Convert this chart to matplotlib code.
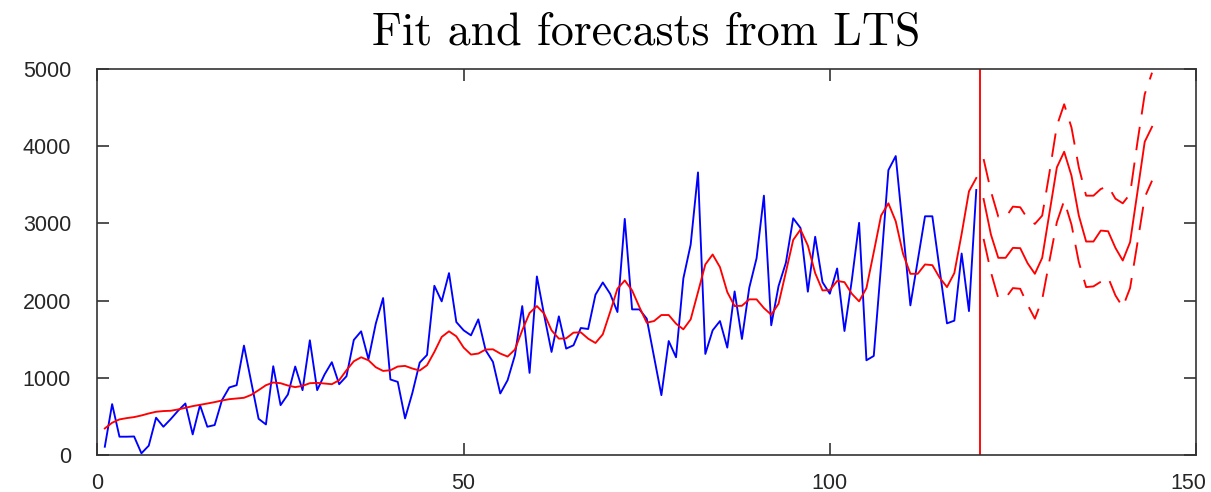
import matplotlib
matplotlib.use("Agg")
import matplotlib.pyplot as plt
import matplotlib.transforms as mtransforms
import numpy as np

# observed series, t = 1..120
observed = [
    107, 659, 237, 237, 240, 22, 121, 483, 366, 465,
    573, 667, 267, 646, 366, 388, 711, 875, 904, 1417,
    943, 469, 396, 1150, 646, 784, 1146, 840, 1486, 840,
    1042, 1202, 917, 1020, 1490, 1602, 1240, 1701, 2033, 978,
    947, 474, 805, 1197, 1296, 2192, 1990, 2356, 1722, 1615,
    1550, 1757, 1357, 1206, 797, 969, 1292, 1929, 1064, 2313,
    1809, 1335, 1796, 1378, 1421, 1645, 1632, 2076, 2235, 2089,
    1852, 3058, 1886, 1886, 1766, 1270, 775, 1476, 1266, 2287,
    2726, 3660, 1309, 1615, 1735, 1391, 2119, 1503, 2166, 2550,
    3359, 1680, 2188, 2490, 3066, 2940, 2115, 2827, 2239, 2089,
    2416, 1606, 2261, 3007, 1227, 1283, 2458, 3690, 3872, 2907,
    1938, 2515, 3092, 3092, 2399, 1705, 1740, 2610, 1864, 3433,
]

# LTS fitted values, t = 1..120
fitted = [
    344, 418, 461, 478, 491, 512, 538, 560, 569, 573,
    590, 611, 633, 650, 667, 685, 706, 723, 732, 741,
    779, 840, 904, 939, 930, 900, 879, 896, 930, 934,
    926, 917, 969, 1098, 1214, 1266, 1227, 1137, 1089, 1098,
    1146, 1154, 1120, 1094, 1163, 1335, 1529, 1602, 1537, 1391,
    1301, 1314, 1366, 1369, 1314, 1275, 1366, 1615, 1839, 1929,
    1830, 1615, 1507, 1511, 1585, 1589, 1507, 1451, 1563, 1852,
    2154, 2261, 2132, 1916, 1714, 1735, 1813, 1813, 1701, 1628,
    1757, 2110, 2468, 2597, 2433, 2110, 1929, 1933, 2016, 2016,
    1903, 1817, 1959, 2369, 2786, 2920, 2713, 2356, 2132, 2136,
    2254, 2239, 2089, 1990, 2162, 2627, 3101, 3260, 3027, 2606,
    2347, 2347, 2468, 2459, 2296, 2175, 2356, 2864, 3415, 3588,
]

# forecasts, t = 121..144
fc_mean = [
    3316, 2855, 2554, 2554, 2683, 2679, 2485, 2347, 2554, 3140,
    3725, 3928, 3618, 3101, 2765, 2765, 2907, 2898, 2683, 2519,
    2756, 3402, 4057, 4251,
]
fc_upper = [
    3833, 3415, 3088, 3075, 3217, 3209, 3062, 2993, 3101, 3661,
    4264, 4543, 4242, 3725, 3359, 3359, 3445, 3484, 3320, 3260,
    3381, 4048, 4673, 4952,
]
fc_lower = [
    2799, 2368, 2033, 2033, 2162, 2153, 1946, 1766, 2016, 2519,
    3015, 3295, 2984, 2498, 2175, 2184, 2244, 2300, 2067, 1916,
    2162, 2743, 3338, 3553,
]
forecast_origin = 120.5

t_obs = np.arange(1, len(observed) + 1)
t_fc = np.arange(len(observed) + 1, len(observed) + 1 + len(fc_mean))

plt.rcParams["lines.scale_dashes"] = False

fig = plt.figure(figsize=(12.11, 4.92), dpi=100)
ax = fig.add_axes([0.0805, 0.0752, 0.9071, 0.7846])

lw = 1.35
ax.plot(t_obs, observed, color="blue", linewidth=lw)
ax.plot(t_obs, fitted, color="red", linewidth=lw)
ax.axvline(forecast_origin, color="red", linewidth=lw)
ax.plot(t_fc, fc_mean, color="red", linewidth=lw)
ax.plot(t_fc, fc_upper, color="red", linewidth=lw, dashes=(17, 9))
ax.plot(t_fc, fc_lower, color="red", linewidth=lw, dashes=(17, 9))

ax.set_xlim(0, 150)
ax.set_ylim(0, 5000)
ax.set_xticks([0, 50, 100, 150])
ax.set_yticks([0, 1000, 2000, 3000, 4000, 5000])

for spine in ax.spines.values():
    spine.set_color("#333333")
    spine.set_linewidth(1.2)

ax.tick_params(direction="in", length=8.5, width=1.2, color="#333333",
               top=True, right=True, labelsize=15.5, labelcolor="#262626")
ax.tick_params(axis="y", pad=19)
ax.tick_params(axis="x", pad=13)
for lab in ax.get_xticklabels() + ax.get_yticklabels():
    lab.set_fontfamily("Liberation Sans")

# last x label sits a little left of its tick so it stays inside the figure
last = ax.get_xticklabels()[-1]
last.set_transform(last.get_transform() +
                   mtransforms.ScaledTranslation(-8 / 100, 0, fig.dpi_scale_trans))

fig.text(0.534, 1 - 45 / 492, "Fit and forecasts from LTS",
         fontfamily="cmr10", fontsize=33, ha="center", va="baseline")

fig.savefig("out.png", dpi=100)
